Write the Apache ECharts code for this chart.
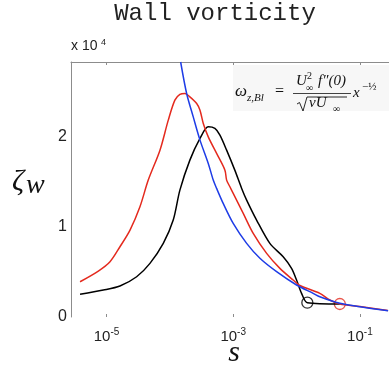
<!DOCTYPE html>
<html><head><meta charset="utf-8">
<script src="https://cdn.jsdelivr.net/npm/echarts@6/dist/echarts.min.js"></script>
<style>html,body{margin:0;padding:0;background:#fff}#c{width:389px;height:371px}</style>
</head><body><div id="c"></div>
<script>
// s values (log axis) and wall vorticity values
const redS = [3.82e-6, 7.43e-6, 1.135e-5, 1.63e-5, 2.35e-5, 3.37e-5, 4.56e-5, 6.98e-5, 9.44e-5, 1.20e-4, 1.44e-4, 1.73e-4, 2.07e-4, 2.65e-4, 2.99e-4, 3.37e-4, 4.04e-4, 5.47e-4, 7.40e-4, 7.87e-4, 8.87e-4, 1.0e-3, 1.44e-3, 2.07e-3, 3.37e-3, 5.46e-3, 8.83e-3, 1.13e-2, 2.33e-2, 3.35e-2, 4.82e-2, 0.1, 0.275];
const redZ = [3900, 5080, 6110, 7770, 9610, 12190, 15140, 18450, 21770, 23980, 24610, 24720, 24340, 23610, 22870, 21400, 19920, 18090, 16240, 15140, 14400, 13670, 11460, 9250, 7040, 5380, 4090, 3480, 2620, 1880, 1440, 1160, 720];

const blackS = [3.82e-6, 8.91e-6, 1.63e-5, 2.99e-5, 4.85e-5, 7.87e-5, 1.13e-4, 1.44e-4, 2.07e-4, 2.99e-4, 4.04e-4, 5.14e-4, 6.17e-4, 7.87e-4, 1.06e-3, 1.36e-3, 1.63e-3, 2.34e-3, 3.79e-3, 6.15e-3, 8.34e-3, 1.0e-2, 1.20e-2, 1.48e-2, 4.82e-2];
const blackZ = [2510, 2980, 3430, 4450, 5930, 8140, 10720, 14030, 17350, 19750, 21030, 20850, 20110, 18450, 16240, 14220, 12930, 10720, 8140, 6660, 5380, 4090, 2620, 1580, 1440];

const blueS = [1.48e-4, 1.84e-4, 2.34e-4, 2.99e-4, 4.04e-4, 4.84e-4, 5.47e-4, 6.95e-4, 1.0e-3, 1.63e-3, 2.64e-3, 4.84e-3, 1.0e-2, 1.83e-2, 2.33e-2, 4.82e-2, 0.1, 0.279];
const blueZ = [28200, 24720, 22130, 19560, 16980, 15140, 14220, 12560, 10350, 8140, 6490, 5010, 3540, 2620, 2240, 1510, 1140, 700];

const blackMarkS = [1.48e-2];
const blackMarkZ = [1580];
const redMarkS = [4.82e-2];
const redMarkZ = [1440];

const xTicks = [1e-5, 1e-3, 1e-1];
const yTickLabels = ['0', '1', '2'];

const zip = (a, b) => a.map((v, i) => [v, b[i]]);
const chart = echarts.init(document.getElementById('c'), null, {renderer: 'canvas'});
const sans = 'Liberation Sans';
const axisGray = '#8c8c8c';
const ink = '#111';
const T = (x, y, text, font, extra) => ({type: 'text', x, y, style: Object.assign({text, font, fill: ink, textVerticalAlign: 'bottom'}, extra || {})});

chart.setOption({
  animation: false,
  backgroundColor: '#fff',
  grid: {left: 71, right: 0, top: 62, bottom: 54, outerBoundsMode: 'none', containLabel: false},
  xAxis: [{
    type: 'log', logBase: 10, min: 2.75e-6, max: 0.288, position: 'bottom',
    axisLine: {show: false},
    axisTick: {show: true, inside: true, length: 3, lineStyle: {color: axisGray}, customValues: xTicks},
    minorTick: {show: false},
    splitLine: {show: false},
    axisLabel: {
      customValues: xTicks, margin: 10,
      formatter: v => '{b|10}{s|' + Math.round(Math.log10(v)) + '}',
      rich: {
        b: {fontSize: 15, fontFamily: sans, color: '#222'},
        s: {fontSize: 10, fontFamily: sans, color: '#222', padding: [0, 0, 9, 0]}
      }
    }
  }, {
    type: 'log', logBase: 10, min: 2.75e-6, max: 0.288, position: 'top',
    axisLine: {show: true, lineStyle: {color: axisGray, width: 1}},
    axisTick: {show: true, inside: true, length: 3, lineStyle: {color: axisGray}, customValues: xTicks},
    minorTick: {show: false},
    splitLine: {show: false},
    axisLabel: {show: false}
  }],
  yAxis: {
    type: 'value', min: 0, max: 28200, interval: 10000,
    axisLine: {show: true, lineStyle: {color: axisGray, width: 1}},
    axisTick: {show: false},
    splitLine: {show: false},
    axisLabel: {
      margin: 4, fontSize: 16, fontFamily: sans, color: '#222',
      formatter: v => yTickLabels[Math.round(v / 10000)]
    }
  },
  series: [
    {type: 'line', data: zip(blackS, blackZ), showSymbol: false, smooth: 0.3, lineStyle: {color: '#000', width: 1.5}, clip: true},
    {type: 'line', data: zip(redS, redZ), showSymbol: false, smooth: 0.3, lineStyle: {color: '#e42a1e', width: 1.5}, clip: true},
    {type: 'line', data: zip(blueS, blueZ), showSymbol: false, smooth: 0.3, lineStyle: {color: '#1e3ce6', width: 1.5}, clip: true},
    {type: 'scatter', data: zip(blackMarkS, blackMarkZ), symbol: 'circle', symbolSize: 11,
      itemStyle: {color: 'rgba(0,0,0,0)', borderColor: '#000', borderWidth: 1.3}},
    {type: 'scatter', data: zip(redMarkS, redMarkZ), symbol: 'circle', symbolSize: 11,
      itemStyle: {color: 'rgba(0,0,0,0)', borderColor: '#e42a1e', borderWidth: 1.3}}
  ],
  graphic: [
    T(215, 26, 'Wall vorticity', '24px "Liberation Mono"', {fill: '#222', textAlign: 'center'}),
    T(71, 53, 'x 10', '14px "Liberation Sans"', {fill: '#222'}),
    T(101, 47, '4', '9px "Liberation Sans"', {fill: '#222'}),
    T(12, 197, 'ζ', 'italic 30px "Liberation Serif"'),
    T(26, 200, 'w', 'italic 28px "Liberation Serif"'),
    T(234, 368, 's', 'italic 30px "Liberation Serif"', {textAlign: 'center'}),
    {type: 'rect', shape: {x: 233, y: 65, width: 156, height: 46}, style: {fill: '#f7f7f7'}, z: -10},
    T(235, 100, 'ω', 'italic 17px "Liberation Serif"'),
    T(247, 104, 'z,Bl', 'italic 11px "Liberation Serif"'),
    T(275, 100, '=', '16px "Liberation Serif"'),
    T(296, 89, 'U', 'italic 15px "Liberation Serif"'),
    T(307, 81, '2', '10px "Liberation Serif"'),
    T(306, 93, '∞', '10px "Liberation Serif"'),
    T(318, 89, 'f″(0)', 'italic 15px "Liberation Serif"'),
    {type: 'line', shape: {x1: 293, y1: 93.5, x2: 351, y2: 93.5}, style: {stroke: ink, lineWidth: 0.8}},
    {type: 'polyline', shape: {points: [[297, 104], [299.5, 102.5], [303, 111], [307, 97], [347, 97]]}, style: {stroke: ink, lineWidth: 0.9, fill: null}},
    T(309, 111, 'νU', 'italic 15px "Liberation Serif"'),
    T(333, 114, '∞', '10px "Liberation Serif"'),
    T(353, 101, 'x', 'italic 15px "Liberation Serif"'),
    T(362, 93, '−½', '11px "Liberation Serif"')
  ]
});
</script>
</body></html>
